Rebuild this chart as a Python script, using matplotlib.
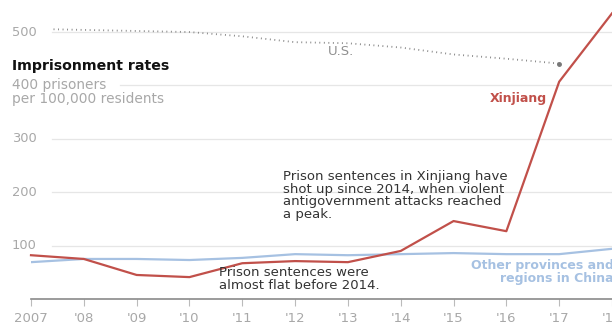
import matplotlib
matplotlib.use("Agg")
import matplotlib.pyplot as plt
from matplotlib.patches import Rectangle
import numpy as np

plt.rcParams['font.family'] = ['DejaVu Sans']

years = [2007, 2008, 2009, 2010, 2011, 2012, 2013, 2014, 2015, 2016, 2017, 2018]
xinjiang = [82, 75, 45, 41, 67, 71, 69, 90, 146, 127, 407, 535]
other = [69, 75, 75, 73, 77, 84, 82, 84, 86, 84, 84, 94]
us_years = [2007, 2008, 2009, 2010, 2011, 2012, 2013, 2014, 2015, 2016, 2017]
us = [506, 504, 502, 500, 492, 481, 479, 471, 458, 450, 441]
tick_labels = ["2007", "'08", "'09", "'10", "'11", "'12", "'13", "'14", "'15", "'16", "'17", "'18"]
grid_vals = [100, 200, 300, 400, 500]

RED = "#c1504a"
BLUE = "#a6c1e2"
LABEL = "#a8a8a8"

W, H = 612, 323
fig = plt.figure(figsize=(W/100, H/100), dpi=100)
# axes placed by pixel: 2007 -> x=31, 2018 -> x=612, y=0 -> 299 px from top
ax = fig.add_axes([31/W, (H-299)/H, (W-31)/W, 299/H])
ax.set_xlim(2007, 2018)
ax.set_ylim(0, 560)
for s in ax.spines.values():
    s.set_visible(False)
ax.spines['bottom'].set_visible(True)
ax.spines['bottom'].set_color("#8a8a8a")
ax.spines['bottom'].set_linewidth(1.2)
ax.set_yticks([])
ax.set_xticks(years)
ax.set_xticklabels(tick_labels, fontsize=9.5, color=LABEL)
ax.tick_params(axis='x', length=5, color="#bbbbbb", pad=4)

# gridlines, starting after the labels
for v in grid_vals:
    xmin = 0.153 if v == 400 else 0.036
    ax.axhline(v, xmin=xmin, xmax=1, color="#e6e6e6", lw=0.9, zorder=0)
    if v != 400:
        fig.text(12/W, 1 - (299 - v*0.534)/H, str(v), fontsize=9.4, color=LABEL,
                 va='center', ha='left')

fig.text(12/W, 1 - 85/H, "400 prisoners", fontsize=9.9, color=LABEL, va='center')
fig.text(12/W, 1 - 99/H, "per 100,000 residents", fontsize=9.9, color=LABEL, va='center')
fig.text(12/W, 1 - 66/H, "Imprisonment rates", fontsize=10.2, fontweight='bold',
         color="#111111", va='center')

ax.plot(years, other, color=BLUE, lw=1.6, zorder=2)
ax.plot(years, xinjiang, color=RED, lw=1.6, zorder=3, clip_on=False)
us_line, = ax.plot(us_years, us, color="#808080", lw=1.3, ls=(0, (0.5, 2.0)), zorder=2)
us_line.set_clip_path(Rectangle((0.036, 0), 0.964, 1, transform=ax.transAxes))
ax.plot(us_years[-1], us[-1], 'o', color="#777777", ms=2.5, zorder=2)

ax.text(2012.62, 464, "U.S.", fontsize=9.5, color="#909090", va='center')
ax.text(2015.68, 375, "Xinjiang", fontsize=9, fontweight='bold', color=RED, va='center')
ax.text(2011.78, 194,
        "Prison sentences in Xinjiang have\nshot up since 2014, when violent\n"
        "antigovernment attacks reached\na peak.",
        fontsize=9.5, color="#333333", va='center', linespacing=0.95)
ax.text(2010.55, 37, "Prison sentences were\nalmost flat before 2014.",
        fontsize=9.5, color="#333333", va='center', linespacing=0.95)
ax.text(2018.03, 51, "Other provinces and\nregions in China", fontsize=9,
        fontweight='bold', color=BLUE, va='center', ha='right', linespacing=0.95,
        clip_on=False)

fig.savefig("out.png", dpi=100)
